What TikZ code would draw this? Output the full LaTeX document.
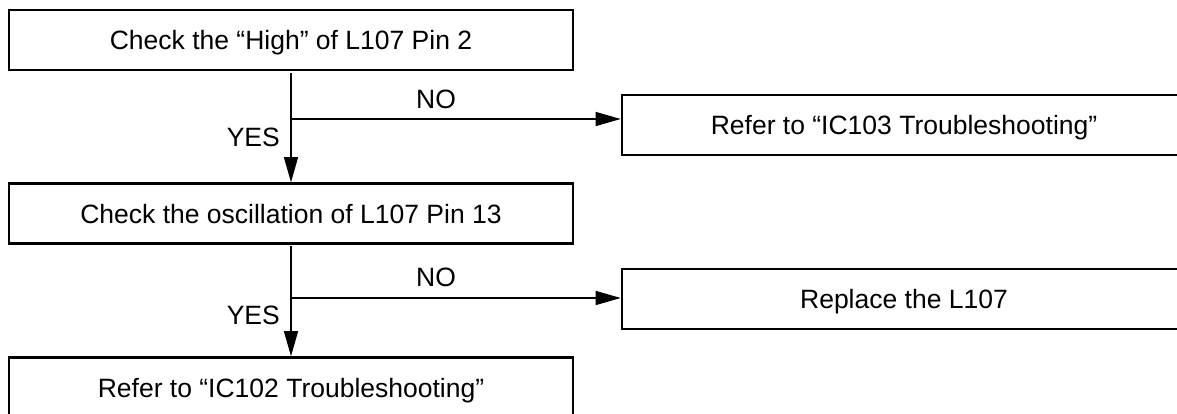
\documentclass[tikz,border=0pt]{standalone}
\usepackage{fontspec}
\setmainfont{Liberation Sans}
\usetikzlibrary{arrows.meta}
\begin{document}
\begin{tikzpicture}[x=1pt,y=1pt,
  box/.style={draw=black, line width=2.6pt, minimum width=564pt, minimum height=60pt,
    inner sep=0pt, text height=19pt, text depth=0pt, font=\fontsize{26.5}{30}\selectfont},
  lbl/.style={inner sep=0pt, text height=19pt, text depth=0pt, font=\fontsize{26.5}{30}\selectfont},
  conn/.style={line width=1.3pt, -{Triangle[length=25pt,width=14pt]}},
  plain/.style={line width=1.3pt}]
\path[use as bounding box] (0,0) rectangle (1177,-414);
\clip (0,0) rectangle (1177,-414);
\node[box] (b1) at (291,-40) {Check the “High” of L107 Pin 2};
\node[box] (b2) at (291,-213.5) {Check the oscillation of L107 Pin 13};
\node[box] (b5) at (291,-387.5) {Refer to “IC102 Troubleshooting”};
\node[box] (b3) at (904,-125) {Refer to “IC103 Troubleshooting”};
\node[box] (b4) at (904,-299) {Replace the L107};
\coordinate (j1) at (291,-119);
\coordinate (j2) at (291,-298);
\draw[conn] ([yshift=-2pt]b1.south) -- (b2.north);
\draw[conn] (j1) -- (b3.west |- j1);
\draw[conn] ([yshift=-1pt]b2.south) -- (b5.north);
\draw[conn] (j2) -- (b4.west |- j2);
\node[lbl] (no1) at (436,-99) {NO};
\node[lbl, anchor=east] (yes1) at (280,-137) {YES};
\node[lbl] (no2) at (436,-277) {NO};
\node[lbl, anchor=east] (yes2) at (280,-315) {YES};
\end{tikzpicture}
\end{document}
